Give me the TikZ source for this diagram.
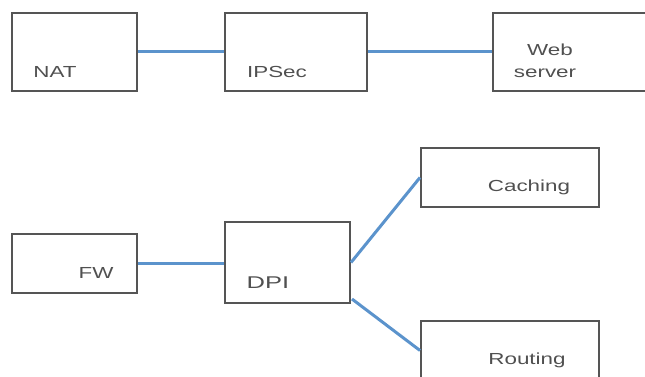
\documentclass[tikz,border=0pt]{standalone}
\usepackage{fontspec}
\setmainfont{Liberation Sans}
\definecolor{boxgray}{HTML}{555555}
\definecolor{txtgray}{HTML}{505050}
\definecolor{linkblue}{HTML}{5B93CC}
\newcommand{\wtxt}[1]{\scalebox{1.4}[1]{#1}}
\begin{document}
\begin{tikzpicture}[x=1pt,y=-1pt,
  box/.style={draw=boxgray,line width=2pt,rectangle,anchor=north west,inner sep=0pt},
  lbl/.style={text=txtgray,font=\fontsize{16}{17}\selectfont,inner sep=0pt,anchor=base},
  link/.style={draw=linkblue,line width=3pt}]
\useasboundingbox (0,0) rectangle (645,377);
\clip (0,0) rectangle (645,377);
% boxes
\node[box,minimum width=125pt,minimum height=78pt] (nat) at (11,12) {};
\node[box,minimum width=142pt,minimum height=78pt] (ipsec) at (224,12) {};
\node[box,minimum width=160pt,minimum height=78pt] (web) at (492,12) {};
\node[box,minimum width=125pt,minimum height=59pt] (fw) at (11,233) {};
\node[box,minimum width=125pt,minimum height=81pt] (dpi) at (224,221) {};
\node[box,minimum width=178pt,minimum height=59pt] (caching) at (420,147) {};
\node[box,minimum width=178pt,minimum height=59pt] (routing) at (420,320) {};
% labels
\node[lbl] (tnat) at (55,78) {\wtxt{NAT}};
\node[lbl] (tipsec) at (277,78) {\wtxt{IPSec}};
\node[lbl] (tweb) at (550,56) {\wtxt{Web}};
\node[lbl] (tserver) at (545,78) {\wtxt{server}};
\node[lbl] (tfw) at (96,278) {\wtxt{FW}};
\node[lbl,font=\fontsize{17}{18}\selectfont] (tdpi) at (268,288) {\scalebox{1.5}[1]{DPI}};
\node[lbl] (tcaching) at (529,191) {\wtxt{Caching}};
\node[lbl] (trouting) at (527,364) {\wtxt{Routing}};
% connectors
\coordinate (dpiout) at ([xshift=1pt,yshift=5pt]dpi.south east);
\draw[link] (nat.east) -- (ipsec.west);
\draw[link] (ipsec.east) -- (web.west);
\draw[link] (fw.east) -- (fw.east -| dpi.west);
\draw[link] (dpi.east) -- (caching.west);
\draw[link] (dpiout) -- (routing.west);
\end{tikzpicture}
\end{document}
